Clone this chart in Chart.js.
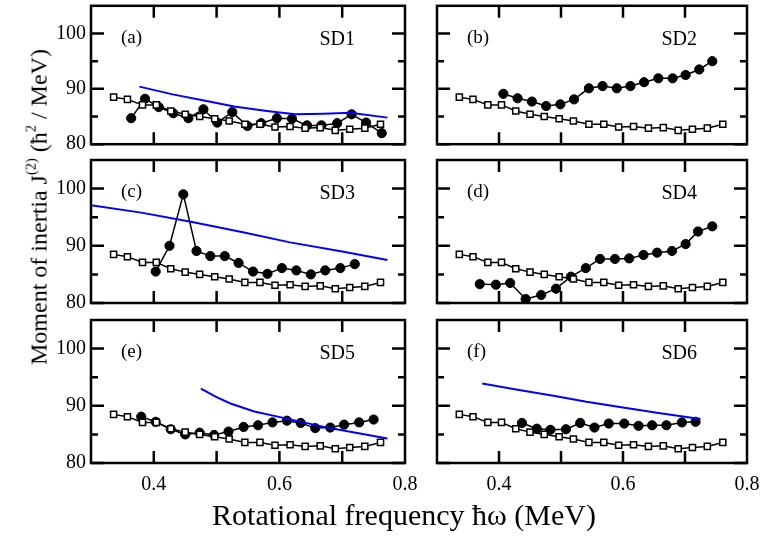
<!DOCTYPE html>
<html>
<head>
<meta charset="utf-8">
<script src="https://cdn.jsdelivr.net/npm/chart.js@4.4.1/dist/chart.umd.min.js"></script>
<style>
  html, body { margin: 0; padding: 0; background: #fff; }
  #wrap { position: relative; width: 770px; height: 538px; overflow: hidden; font-family: "Liberation Serif", "Times New Roman", serif; }
  canvas { position: absolute; }
  .title { position: absolute; white-space: nowrap; color: #000; line-height: 1; }
  .title sup { font-size: 0.6em; vertical-align: 0.75em; }
</style>
</head>
<body>
<div id="wrap">
  <canvas id="p0"></canvas>
  <canvas id="p1"></canvas>
  <canvas id="p2"></canvas>
  <canvas id="p3"></canvas>
  <canvas id="p4"></canvas>
  <canvas id="p5"></canvas>
  <div class="title" id="ytitle">Moment of inertia J<sup>(2)</sup> (ħ<sup>2</sup> / MeV)</div>
  <div class="title" id="xtitle">Rotational frequency ħω (MeV)</div>
</div>
<script>
// reference band (open squares), same in every panel
const refX = [0.336, 0.358, 0.382, 0.404, 0.427, 0.450, 0.473, 0.497, 0.520, 0.545, 0.569, 0.593, 0.617, 0.641, 0.665, 0.689, 0.712, 0.736, 0.761];
const refY = [88.5, 88.1, 87.1, 87.1, 86.0, 85.4, 85.0, 84.6, 84.2, 83.6, 83.6, 83.1, 83.2, 82.9, 83.0, 82.5, 82.7, 82.9, 83.6];

// SD bands (filled circles)
const sd1X = [0.364, 0.386, 0.408, 0.431, 0.455, 0.479, 0.501, 0.525, 0.549, 0.571, 0.596, 0.620, 0.644, 0.667, 0.692, 0.715, 0.738, 0.763];
const sd1Y = [84.7, 88.2, 86.7, 85.6, 84.7, 86.3, 83.9, 85.8, 83.3, 83.8, 84.7, 84.6, 83.4, 83.4, 83.8, 85.4, 83.9, 82.0];
const sd2X = [0.407, 0.430, 0.453, 0.476, 0.499, 0.521, 0.545, 0.567, 0.590, 0.612, 0.634, 0.657, 0.680, 0.701, 0.723, 0.744];
const sd2Y = [89.1, 88.3, 87.7, 86.9, 87.2, 88.1, 90.1, 90.5, 90.1, 90.5, 91.2, 91.9, 91.9, 92.5, 93.5, 95.0];
const sd3X = [0.403, 0.425, 0.447, 0.468, 0.490, 0.513, 0.535, 0.558, 0.581, 0.604, 0.627, 0.650, 0.673, 0.697, 0.720];
const sd3Y = [85.5, 90.0, 99.0, 89.1, 88.2, 88.2, 87.0, 85.5, 85.1, 86.1, 85.7, 85.0, 85.7, 86.1, 86.8];
const sd4X = [0.369, 0.395, 0.418, 0.443, 0.468, 0.492, 0.516, 0.540, 0.563, 0.587, 0.610, 0.633, 0.655, 0.679, 0.701, 0.721, 0.744];
const sd4Y = [83.3, 83.2, 83.5, 80.7, 81.4, 82.5, 84.6, 86.1, 87.7, 87.7, 87.8, 88.4, 88.8, 89.1, 90.3, 92.5, 93.4];
const sd5X = [0.380, 0.403, 0.427, 0.450, 0.473, 0.496, 0.519, 0.543, 0.566, 0.589, 0.612, 0.634, 0.657, 0.681, 0.703, 0.727, 0.750];
const sd5Y = [88.1, 87.2, 85.9, 85.0, 85.3, 84.9, 85.5, 86.3, 86.6, 87.1, 87.4, 87.0, 86.1, 86.2, 86.7, 87.1, 87.6];
const sd6X = [0.437, 0.461, 0.483, 0.508, 0.531, 0.554, 0.577, 0.602, 0.625, 0.647, 0.670, 0.695, 0.717];
const sd6Y = [87.0, 86.0, 85.8, 85.9, 87.0, 86.2, 86.9, 86.9, 86.5, 86.6, 86.6, 87.1, 87.2];

// calculations (blue lines)
const th1X = [0.377, 0.430, 0.480, 0.528, 0.580, 0.625, 0.670, 0.713, 0.772];
const th1Y = [90.4, 89.0, 87.9, 86.8, 86.0, 85.4, 85.5, 85.7, 84.8];
const th3X = [0.300, 0.380, 0.459, 0.540, 0.617, 0.700, 0.772];
const th3Y = [97.1, 95.8, 94.2, 92.4, 90.6, 89.0, 87.5];
const th5X = [0.475, 0.500, 0.522, 0.560, 0.610, 0.680, 0.772];
const th5Y = [93.0, 91.5, 90.4, 89.0, 87.8, 86.1, 84.3];
const th6X = [0.373, 0.430, 0.490, 0.541, 0.600, 0.660, 0.725];
const th6Y = [93.9, 92.8, 91.7, 90.7, 89.7, 88.7, 87.7];

// axes
const xTickLabels = [0.4, 0.6, 0.8];
const xTickMarks = [0.4, 0.5, 0.6, 0.7];
const yTickLabels = [80, 90, 100];
const yMinorTicks = [85, 95];
const panelTags = ['(a)', '(b)', '(c)', '(d)', '(e)', '(f)'];
const panelNames = ['SD1', 'SD2', 'SD3', 'SD4', 'SD5', 'SD6'];

const FONT = '"Liberation Serif", "Times New Roman", serif';
Chart.defaults.font.family = FONT;
Chart.defaults.color = '#000';

const pts = (xs, ys) => xs.map((v, i) => ({ x: v, y: ys[i] }));

// frame, inward ticks and panel labels
const framePlugin = {
  id: 'frame',
  afterDatasetsDraw(chart, args, opts) {
    const { ctx, chartArea: a, scales: { x, y } } = chart;
    ctx.save();
    ctx.strokeStyle = '#000';
    ctx.lineWidth = 2.5;
    ctx.beginPath();
    xTickMarks.forEach(v => {
      const px = x.getPixelForValue(v);
      ctx.moveTo(px, a.top); ctx.lineTo(px, a.top + 12);
      ctx.moveTo(px, a.bottom); ctx.lineTo(px, a.bottom - 12);
    });
    yTickLabels.concat(yMinorTicks).forEach(v => {
      const py = y.getPixelForValue(v);
      const len = yMinorTicks.includes(v) ? 7 : 13;
      ctx.moveTo(a.left, py); ctx.lineTo(a.left + len, py);
      ctx.moveTo(a.right, py); ctx.lineTo(a.right - len, py);
    });
    ctx.stroke();
    ctx.strokeRect(a.left, a.top, a.right - a.left, a.bottom - a.top);
    ctx.fillStyle = '#000';
    ctx.textBaseline = 'alphabetic';
    ctx.font = '19px ' + FONT;
    ctx.textAlign = 'left';
    ctx.fillText(opts.tag, a.left + 30, a.top + 37);
    ctx.font = '20px ' + FONT;
    ctx.textAlign = 'right';
    ctx.fillText(opts.name, a.right - 50, a.top + 39);
    ctx.restore();
  }
};

// panels: [circlesX, circlesY, theoryX, theoryY]
const panels = [
  [sd1X, sd1Y, th1X, th1Y],
  [sd2X, sd2Y, null, null],
  [sd3X, sd3Y, th3X, th3Y],
  [sd4X, sd4Y, null, null],
  [sd5X, sd5Y, th5X, th5Y],
  [sd6X, sd6Y, th6X, th6Y]
];

const rowTop = [0, 150, 310];
const rowHeight = [150, 160, 190];
const rowPadTop = [2, 10, 10];
const rowPadBottom = [5, 7, 0];

panels.forEach((p, i) => {
  const row = Math.floor(i / 2);
  const col = i % 2;
  const last = row === 2;
  const canvas = document.getElementById('p' + i);
  const w = col === 0 ? 430 : 350;
  const h = rowHeight[row];
  canvas.width = w; canvas.height = h;
  canvas.style.width = w + 'px'; canvas.style.height = h + 'px';
  canvas.style.left = (col === 0 ? 0 : 420) + 'px';
  canvas.style.top = rowTop[row] + 'px';

  const datasets = [{
    data: pts(refX, refY),
    showLine: true,
    borderColor: '#000',
    borderWidth: 1.5,
    pointStyle: 'rect',
    pointRadius: 4.3,
    pointBackgroundColor: '#fff',
    pointBorderColor: '#000',
    pointBorderWidth: 1.5
  }];
  if (p[2]) {
    datasets.push({
      data: pts(p[2], p[3]),
      showLine: true,
      borderColor: '#0000ff',
      borderWidth: 2,
      pointRadius: 0
    });
  }
  datasets.push({
    data: pts(p[0], p[1]),
    showLine: true,
    borderColor: '#000',
    borderWidth: 1.5,
    pointStyle: 'circle',
    pointRadius: 4.6,
    pointBackgroundColor: '#000',
    pointBorderColor: '#000',
    pointBorderWidth: 1
  });

  new Chart(canvas, {
    type: 'scatter',
    data: { datasets },
    options: {
      responsive: false,
      animation: false,
      devicePixelRatio: 1,
      layout: {
        padding: {
          left: col === 0 ? 0 : 17,
          right: col === 0 ? 25 : 23,
          top: rowPadTop[row],
          bottom: rowPadBottom[row]
        }
      },
      plugins: {
        legend: { display: false },
        tooltip: { enabled: false },
        frame: { tag: panelTags[i], name: panelNames[i] }
      },
      scales: {
        x: {
          type: 'linear',
          min: 0.3,
          max: 0.8,
          display: last,
          grid: { display: false, drawTicks: false },
          border: { display: false },
          afterBuildTicks: s => { s.ticks = xTickLabels.map(v => ({ value: v })); },
          afterFit: s => { s.height = last ? 37 : 0; s.paddingLeft = 0; s.paddingRight = 0; },
          ticks: { padding: 10, font: { size: 20 }, callback: v => v.toFixed(1) }
        },
        y: {
          min: 80,
          max: 105,
          display: col === 0,
          grid: { display: false, drawTicks: false },
          border: { display: false },
          afterBuildTicks: s => { s.ticks = yTickLabels.map(v => ({ value: v })); },
          afterFit: s => { s.width = col === 0 ? 91 : 0; s.paddingTop = 0; s.paddingBottom = 0; },
          ticks: { padding: 5, font: { size: 20 } }
        }
      }
    },
    plugins: [framePlugin]
  });
});

// axis titles
const yt = document.getElementById('ytitle');
yt.style.fontSize = '24px';
yt.style.left = '37px';
yt.style.top = '207px';
yt.style.transform = 'translate(-50%, -50%) rotate(-90deg)';
const xt = document.getElementById('xtitle');
xt.style.fontSize = '30px';
xt.style.left = '404px';
xt.style.top = '515px';
xt.style.transform = 'translate(-50%, -50%)';
</script>
</body>
</html>
